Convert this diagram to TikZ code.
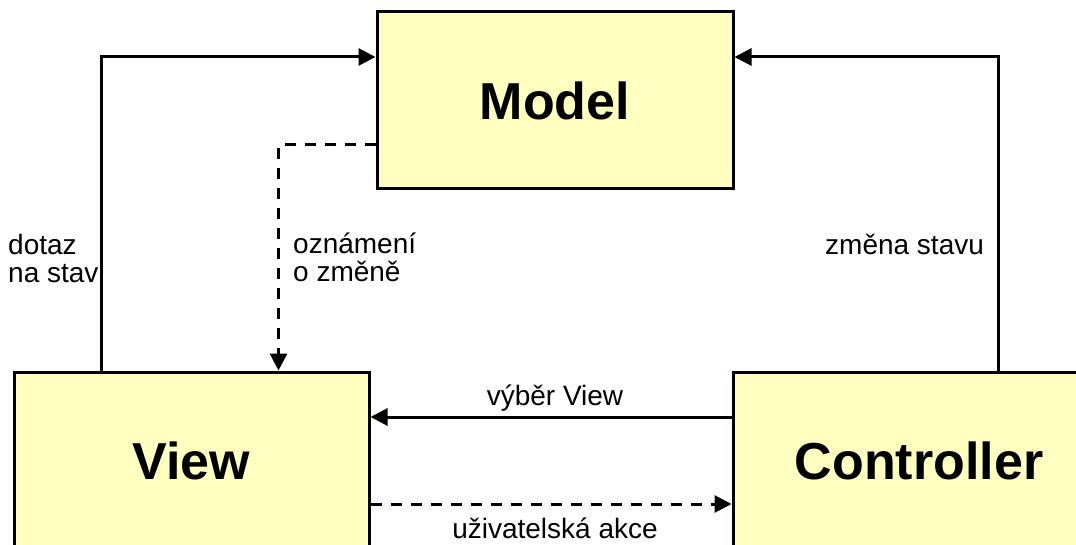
\documentclass[tikz,border=0pt]{standalone}
\usepackage{fontspec}
\setmainfont{Liberation Sans}
\usetikzlibrary{arrows.meta}
\definecolor{boxfill}{HTML}{FFFFC0}
\begin{document}
\begin{tikzpicture}[x=1pt,y=-1pt,
  block/.style={draw=black,line width=3pt,fill=boxfill,inner sep=0pt,
    font=\fontsize{52}{60}\selectfont\bfseries},
  flow/.style={line width=3pt,-{Triangle[length=17pt,width=17pt]}},
  notice/.style={flow,dash pattern=on 11pt off 9pt},
  lbl/.style={inner sep=0pt,font=\fontsize{28}{28}\selectfont,align=left}]
\useasboundingbox (0,0) rectangle (1076,545);
\clip (0,0) rectangle (1076,545);

% the three components
\node[block,minimum width=356pt,minimum height=177pt] (model) at (555,100.5) {Model};
\node[block,minimum width=355pt,minimum height=177pt] (view) at (191.5,460.5) {View};
\node[block,minimum width=372pt,minimum height=177pt] (controller) at (919,460.5) {Controller};

% connectors
\draw[flow] ([xshift=89pt]view.north west) |- ([yshift=43.5pt]model.west);
\draw[flow] ([xshift=267pt]controller.north west) |- ([yshift=43.5pt]model.east);
\draw[notice] ([yshift=-44.5pt]model.west) -| ([xshift=266pt]view.north west);
\draw[flow] ([yshift=43.5pt]controller.west) -- ([yshift=43.5pt]view.east);
\draw[notice] ([yshift=-43.5pt]view.east) -- ([yshift=-43.5pt]controller.west);

% labels (multi-line ones are placed by the baseline of their last line)
\node[lbl,anchor=base west] (query) at (8,283) {dotaz\\na stav};
\node[lbl,anchor=base west] (notify) at (293,282) {oznámení\\o změně};
\node[lbl,anchor=base west] (change) at (825,255) {změna stavu};
\node[lbl,anchor=base] (select) at (555,405) {výběr View};
\node[lbl,anchor=base] (action) at (555,538) {uživatelská akce};
\end{tikzpicture}
\end{document}
